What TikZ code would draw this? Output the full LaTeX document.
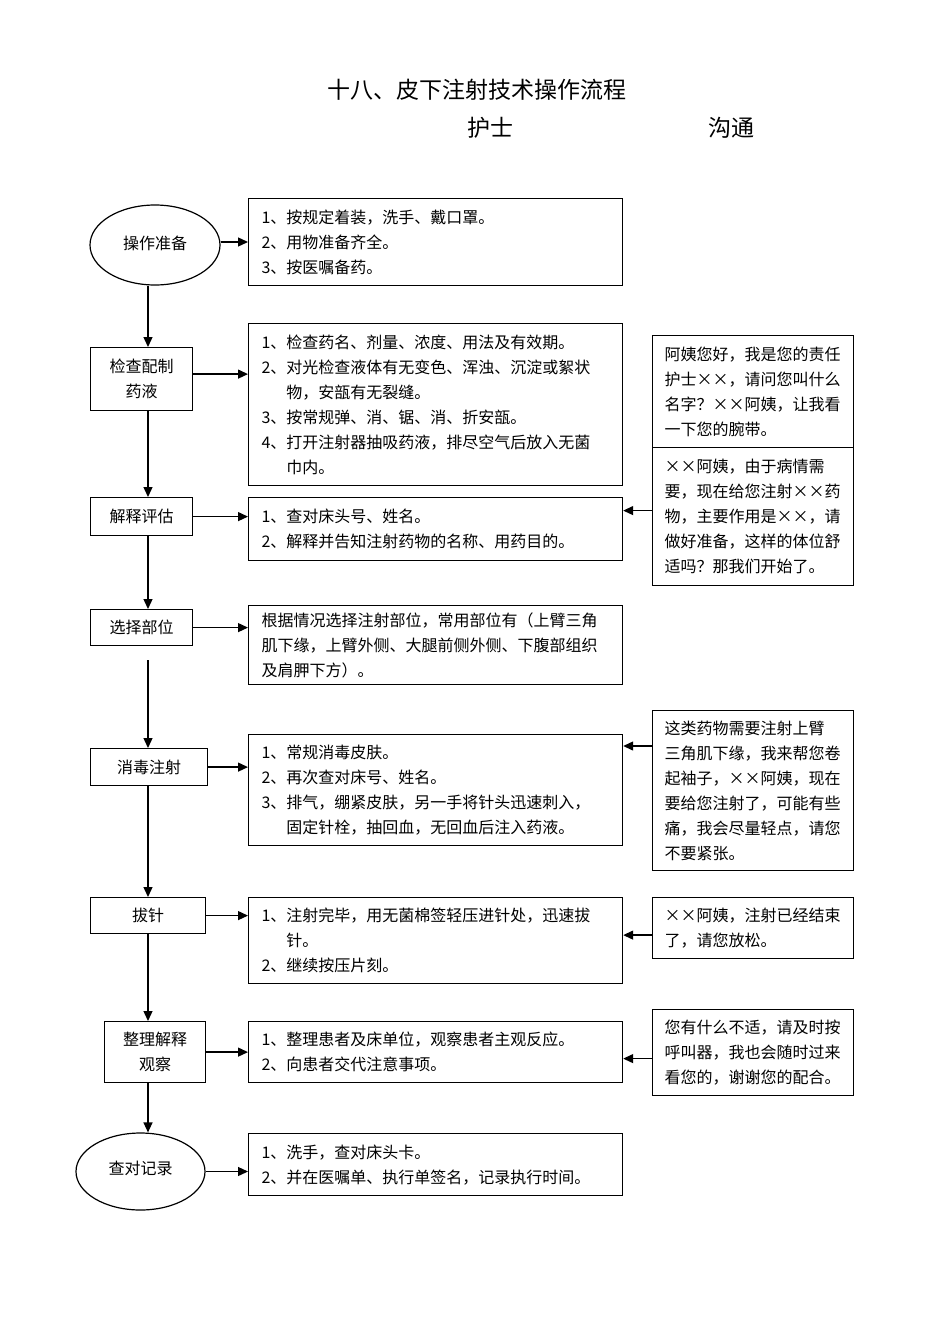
\documentclass[tikz,border=0pt]{standalone}
\usepackage{fontspec}
\setmainfont{Noto Sans CJK SC}
\usetikzlibrary{shapes.geometric,arrows.meta}
\tikzset{
  stepbox/.style={draw, line width=1.2pt, inner sep=0pt, align=center, font=\fontsize{16}{25}\selectfont},
  stepoval/.style={draw, ellipse, line width=1.2pt, inner sep=0pt, align=center, font=\fontsize{16}{25}\selectfont},
  itembox/.style={draw, line width=1.2pt, anchor=north west, inner xsep=13pt, inner ysep=0pt,
    minimum width=374, text width=348, align=left, font=\fontsize{16}{25}\selectfont},
  talkbox/.style={draw, line width=1.2pt, anchor=north west, inner xsep=12pt, inner ysep=0pt,
    minimum width=201, text width=177, align=left, font=\fontsize{16}{25}\selectfont},
  arr/.style={line width=1.3pt, -{Triangle[length=10pt,width=9pt]}}
}
\begin{document}
\begin{tikzpicture}[x=1pt,y=-1pt]
   \useasboundingbox (0,0) rectangle (950,1344);
   \coordinate (spine) at (148,0);
   % headings
   \node[font=\fontsize{23}{28}\selectfont] (title) at (477,90) {十八、皮下注射技术操作流程};
   \node[font=\fontsize{23}{28}\selectfont] (nurse) at (490,128) {护士};
   \node[font=\fontsize{23}{28}\selectfont] (talk) at (731,128) {沟通};
   % steps
   \node[stepoval, minimum width=130, minimum height=80] (prep) at (155,245) {\raisebox{5pt}{操作准备}};
   \node[stepbox, anchor=north west, minimum width=102, minimum height=63] (check) at (90,347) {检查配制\\药液};
   \node[stepbox, anchor=north west, minimum width=102, minimum height=38] (expl) at (90,497) {解释评估};
   \node[stepbox, anchor=north west, minimum width=102, minimum height=36] (site) at (90,609) {选择部位};
   \node[stepbox, anchor=north west, minimum width=117, minimum height=37] (inject) at (90,748) {消毒注射};
   \node[stepbox, anchor=north west, minimum width=115, minimum height=36] (pull) at (90,897) {拔针};
   \node[stepbox, anchor=north west, minimum width=101, minimum height=61] (tidy) at (104,1021) {整理解释\\观察};
   \node[stepoval, minimum width=129, minimum height=77] (rec) at (140.5,1171.5) {\raisebox{8pt}{查对记录}};
   % details
   \node[itembox, minimum height=87] (d1) at (248,198) {1、按规定着装，洗手、戴口罩。\\2、用物准备齐全。\\3、按医嘱备药。};
   \node[itembox, minimum height=162] (d2) at (248,323) {1、检查药名、剂量、浓度、用法及有效期。\\2、对光检查液体有无变色、浑浊、沉淀或絮状\\\phantom{2、}物，安瓿有无裂缝。\\3、按常规弹、消、锯、消、折安瓿。\\4、打开注射器抽吸药液，排尽空气后放入无菌\\\phantom{4、}巾内。};
   \node[itembox, minimum height=63] (d3) at (248,497) {1、查对床头号、姓名。\\2、解释并告知注射药物的名称、用药目的。};
   \node[itembox, minimum height=79] (d4) at (248,605) {根据情况选择注射部位，常用部位有（上臂三角\\肌下缘，上臂外侧、大腿前侧外侧、下腹部组织\\及肩胛下方）。};
   \node[itembox, minimum height=111] (d5) at (248,734) {1、常规消毒皮肤。\\2、再次查对床号、姓名。\\3、排气，绷紧皮肤，另一手将针头迅速刺入，\\\phantom{3、}固定针栓，抽回血，无回血后注入药液。};
   \node[itembox, minimum height=86] (d6) at (248,897) {1、注射完毕，用无菌棉签轻压进针处，迅速拔\\\phantom{1、}针。\\2、继续按压片刻。};
   \node[itembox, minimum height=61] (d7) at (248,1021) {1、整理患者及床单位，观察患者主观反应。\\2、向患者交代注意事项。};
   \node[itembox, minimum height=62] (d8) at (248,1133) {1、洗手，查对床头卡。\\2、并在医嘱单、执行单签名，记录执行时间。};
   % talks
   \node[talkbox, minimum height=112] (ta) at (652,335) {阿姨您好，我是您的责任\\护士××，请问您叫什么\\名字？××阿姨，让我看\\一下您的腕带。};
   \node[talkbox, minimum height=138] (tb) at (652,447) {××阿姨，由于病情需\\要，现在给您注射××药\\物，主要作用是××，请\\做好准备，这样的体位舒\\适吗？那我们开始了。};
   \node[talkbox, minimum height=160] (tc) at (652,710) {这类药物需要注射上臂\\三角肌下缘，我来帮您卷\\起袖子，××阿姨，现在\\要给您注射了，可能有些\\痛，我会尽量轻点，请您\\不要紧张。};
   \node[talkbox, minimum height=61] (td) at (652,897) {××阿姨，注射已经结束\\了，请您放松。};
   \node[talkbox, minimum height=86] (te) at (652,1009) {您有什么不适，请及时按\\呼叫器，我也会随时过来\\看您的，谢谢您的配合。};
   % flow down
   \coordinate (gap) at (148,660);
   \draw[arr] (prep.south -| spine) -- (check.north -| spine);
   \draw[arr] (check.south -| spine) -- (expl.north -| spine);
   \draw[arr] (expl.south -| spine) -- (site.north -| spine);
   \draw[arr] (gap) -- (inject.north -| spine);
   \draw[arr] (inject.south -| spine) -- (pull.north -| spine);
   \draw[arr] (pull.south -| spine) -- (tidy.north -| spine);
   \draw[arr] (tidy.south -| spine) -- (rec.north -| spine);
   % to details
   \draw[arr] ([yshift=3]prep.east) -- ([yshift=3]prep.east -| d1.west);
   \draw[arr] ([yshift=5]check.east) -- ([yshift=5]check.east -| d2.west);
   \draw[arr] (expl.east) -- (expl.east -| d3.west);
   \draw[arr] (site.east) -- (site.east -| d4.west);
   \draw[arr] (inject.east) -- (inject.east -| d5.west);
   \draw[arr] (pull.east) -- (pull.east -| d6.west);
   \draw[arr] (tidy.east) -- (tidy.east -| d7.west);
   \draw[arr] (rec.east) -- (rec.east -| d8.west);
   % from talks
   \draw[arr] ([yshift=6]tb.west) -- ([yshift=6]tb.west -| d3.east);
   \draw[arr] (tc.west |- 0,746) -- (d5.east |- 0,746);
   \draw[arr] ([yshift=-7]td.west) -- ([yshift=-7]td.west -| d6.east);
   \draw[arr] ([yshift=-6]te.west) -- ([yshift=-6]te.west -| d7.east);
 \end{tikzpicture}
\end{document}
